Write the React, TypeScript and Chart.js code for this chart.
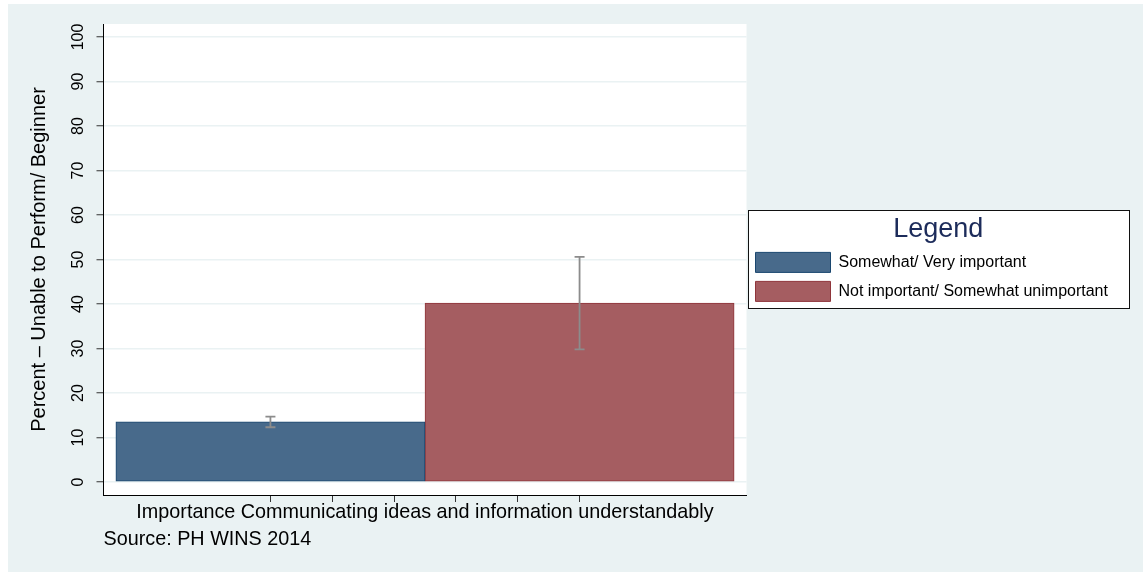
import React, { useEffect, useRef } from "react";
import { Chart, registerables } from "chart.js";

Chart.register(...registerables);

// ---------- data ----------
const seriesLabels = ["Somewhat/ Very important", "Not important/ Somewhat unimportant"];
const barPositions = [1, 2];
const barValues = [13.55, 40.2];
const ciLow = [12.3, 29.8];
const ciHigh = [14.7, 50.6];
const yTickValues = [0, 10, 20, 30, 40, 50, 60, 70, 80, 90, 100];
const xTickValues = [1, 1.2, 1.4, 1.6, 1.8, 2];
const xAxisTitle = "Importance Communicating ideas and information understandably";
const yAxisTitle = "Percent – Unable to Perform/ Beginner";
const sourceNote = "Source: PH WINS 2014";
const legendTitle = "Legend";

// ---------- styles ----------
const FONT = "'Liberation Sans', Arial, Helvetica, sans-serif";
const fillColors = ["#486a8b", "#a55d61"];
const borderColors = ["#1a476f", "#90353b"];
const X_MIN = 0.46;
const X_MAX = 2.54;
const Y_MIN = -2.92;
const Y_MAX = 102.92;
const LEGEND_WIDTH = 383.5;

const framePlugin = {
  id: "frameAndBackground",
  beforeLayout(chart: any) {
    const lg: any = chart.legend;
    if (lg && !lg.__patched) {
      const orig = lg.fit;
      lg.fit = function (this: any) {
        orig.call(this);
        this.width = LEGEND_WIDTH;
      };
      lg.__patched = true;
    }
  },
  beforeDraw(chart: any) {
    const { ctx, chartArea } = chart;
    ctx.save();
    ctx.fillStyle = "#ffffff";
    ctx.fillRect(chartArea.left, chartArea.top, chartArea.right - chartArea.left, chartArea.bottom - chartArea.top);
    const lg = chart.legend;
    if (lg) {
      const x0 = lg.left + 1.5;
      const x1 = lg.right;
      const y0 = lg.top + 186;
      const y1 = lg.top + 285;
      ctx.fillRect(x0, y0, x1 - x0, y1 - y0);
      ctx.strokeStyle = "#111";
      ctx.lineWidth = 1;
      ctx.strokeRect(x0 + 0.5, y0 + 0.5, x1 - x0 - 1, y1 - y0 - 1);
    }
    ctx.restore();
  },
};

const errorBarPlugin = {
  id: "errorBars",
  afterDatasetsDraw(chart: any) {
    const xs = chart.scales.x;
    const ys = chart.scales.y;
    const ctx = chart.ctx;
    ctx.save();
    ctx.strokeStyle = "#8c8c8c";
    ctx.lineWidth = 1.8;
    barPositions.forEach((p, i) => {
      const x = xs.getPixelForValue(p);
      const yl = ys.getPixelForValue(ciLow[i]);
      const yh = ys.getPixelForValue(ciHigh[i]);
      ctx.beginPath();
      ctx.moveTo(x, yl);
      ctx.lineTo(x, yh);
      ctx.moveTo(x - 5, yl);
      ctx.lineTo(x + 5, yl);
      ctx.moveTo(x - 5, yh);
      ctx.lineTo(x + 5, yh);
      ctx.stroke();
    });
    ctx.restore();
  },
};

export default function App() {
  const ref = useRef<HTMLCanvasElement | null>(null);

  useEffect(() => {
    if (!ref.current) return;
    const chart = new Chart(ref.current, {
      type: "bar",
      data: {
        datasets: seriesLabels.map((label, i) => ({
          label,
          data: [{ x: barPositions[i], y: barValues[i] }],
          backgroundColor: fillColors[i],
          borderColor: borderColors[i],
          borderWidth: 1,
          borderSkipped: false,
        })),
      },
      options: {
        responsive: false,
        animation: false,
        devicePixelRatio: 1,
        layout: { padding: { left: 0, top: 20, right: 13, bottom: 23 } },
        datasets: {
          bar: { grouped: false, barPercentage: 1, categoryPercentage: 1 },
        },
        scales: {
          x: {
            type: "linear",
            display: false,
            min: X_MIN,
            max: X_MAX,
            offset: false,
            afterBuildTicks: (s: any) => {
              s.ticks = barPositions.map((v) => ({ value: v }));
            },
            ticks: { display: false },
            grid: { offset: false },
          },
          xAxis: {
            type: "linear",
            axis: "x",
            position: "bottom",
            min: X_MIN,
            max: X_MAX,
            offset: false,
            afterBuildTicks: (s: any) => {
              s.ticks = xTickValues.map((v) => ({ value: v }));
            },
            ticks: { display: false },
            grid: {
              display: true,
              drawOnChartArea: false,
              drawTicks: true,
              tickLength: 7,
              tickColor: "#333",
              tickWidth: 1,
              offset: false,
            },
            border: { display: true, color: "#000", width: 1 },
            title: {
              display: true,
              text: xAxisTitle,
              color: "#000",
              font: { family: FONT, size: 19.8, lineHeight: 1 },
              padding: { top: 0.2, bottom: 0 },
            },
          },
          y: {
            type: "linear",
            min: Y_MIN,
            max: Y_MAX,
            afterBuildTicks: (s: any) => {
              s.ticks = yTickValues.map((v) => ({ value: v }));
            },
            ticks: {
              color: "#000",
              font: { family: FONT, size: 16, lineHeight: 1 },
              padding: 5,
              minRotation: 90,
              maxRotation: 90,
              crossAlign: "center",
              callback: (v: any) => String(v),
            },
            grid: {
              color: "#eaf2f3",
              lineWidth: 1.5,
              tickColor: "#333",
              tickLength: 7,
              tickWidth: 1,
            },
            border: { display: true, color: "#000", width: 1 },
            title: {
              display: true,
              text: yAxisTitle,
              color: "#000",
              font: { family: FONT, size: 20, lineHeight: 1 },
              padding: { top: 21.8, bottom: 20.7 },
            },
          },
        } as any,
        plugins: {
          legend: {
            display: true,
            position: "right",
            align: "start",
            fullSize: false,
            title: {
              display: true,
              text: legendTitle,
              color: "#1c2b5a",
              position: "center",
              font: { family: FONT, size: 27, lineHeight: 1 },
              padding: { top: 192.4, bottom: 0 },
            },
            labels: {
              boxWidth: 75,
              boxHeight: 20,
              padding: 9,
              color: "#000",
              font: { family: FONT, size: 16 },
            },
          },
          subtitle: {
            display: true,
            text: sourceNote,
            position: "bottom",
            align: "start",
            fullSize: false,
            color: "#000",
            font: { family: FONT, size: 19.8, lineHeight: 1 },
            padding: { top: 7.2, bottom: 0 },
          },
          title: { display: false },
          tooltip: { enabled: false },
        } as any,
      },
      plugins: [framePlugin, errorBarPlugin],
    } as any);
    return () => chart.destroy();
  }, []);

  return (
    <div
      style={{
        position: "fixed",
        left: 8,
        top: 4,
        width: 1135,
        height: 568,
        background: "#eaf2f3",
      }}
    >
      <canvas ref={ref} width={1135} height={568} style={{ display: "block" }} />
    </div>
  );
}
